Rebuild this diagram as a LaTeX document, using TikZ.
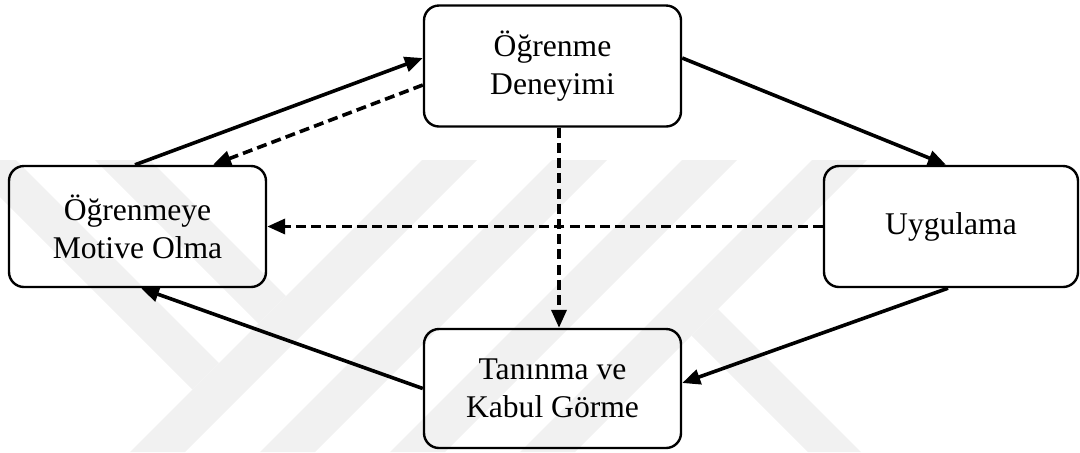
\documentclass[tikz,border=0pt]{standalone}
\usepackage{fontspec}
\setmainfont{Liberation Serif}
\usetikzlibrary{arrows.meta}
\definecolor{wm}{gray}{0.945}
\tikzset{
  box/.style={draw=black, line width=1.2pt, rounded corners=7.5pt, minimum width=128.5pt, minimum height=60.5pt, align=center, font=\fontsize{15.8}{19}\selectfont, inner sep=0pt},
  conn/.style={line width=1.8pt, -{Triangle[length=9pt,width=7.5pt]}},
  dconn/.style={conn, dash pattern=on 5pt off 2.6pt},
  band/.style={fill=wm, draw=none}
}
\begin{document}
\begin{tikzpicture}[x=0.5pt, y=-0.5pt]
\useasboundingbox (0,0) rectangle (1080,452);
% faint watermark
\begin{scope}
\clip (0,0) rectangle (1080,452);
\foreach \x in {130,260,390,520}{
  \fill[band] (\x,452) -- (\x+55,452) -- (\x+347,160) -- (\x+292,160) -- cycle;
}
\fill[band] (-37,160) -- (16,160) -- (219,363) -- (192.5,389.5) -- cycle;
\fill[band] (95,160) -- (150,160) -- (286,296) -- (258.5,323.5) -- cycle;
\fill[band] (718,309) -- (861,452) -- (808,452) -- (691.5,335.5) -- cycle;
\end{scope}
% boxes
\node[box] (T) at (552.5,66) {Öğrenme\\Deneyimi};
\node[box] (L) at (137.5,226.5) {Öğrenmeye\\Motive Olma};
\node[box, minimum width=127pt] (R) at (951,226.5) {Uygulama};
\node[box, minimum height=59.5pt] (B) at (552.5,388.5) {Tanınma ve\\Kabul Görme};
% connectors
\draw[conn] ([xshift=-1.25pt]L.north) -- ([yshift=4pt]T.west);
\draw[dconn] ([yshift=-9.5pt]T.west) -- ([xshift=37.75pt]L.north);
\draw[conn] ([yshift=4pt]T.east) -- ([xshift=-2.5pt]R.north);
\draw[dconn] ([xshift=3.25pt]T.south) -- ([xshift=3.25pt]B.north);
\draw[dconn] (R.west) -- (L.east);
\draw[conn] ([xshift=-1.5pt]R.south) -- ([yshift=2.75pt]B.east);
\draw[conn] (B.west) -- ([xshift=1.75pt]L.south);
\end{tikzpicture}
\end{document}
